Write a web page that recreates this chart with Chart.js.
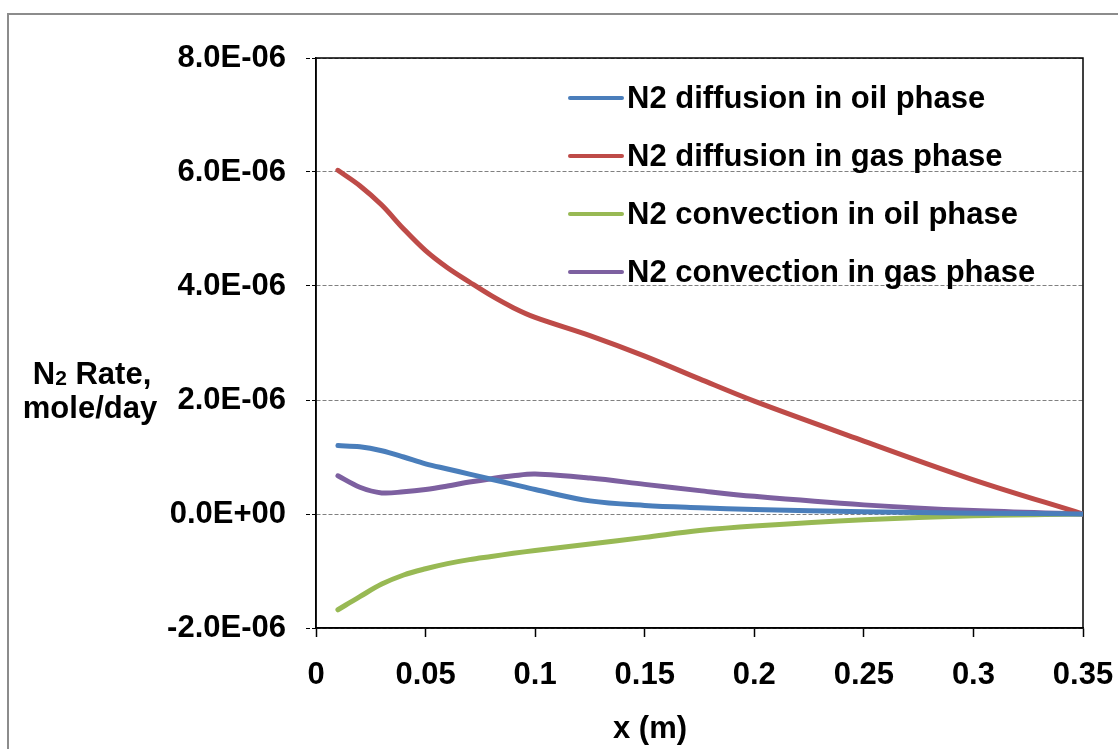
<!DOCTYPE html>
<html>
<head>
<meta charset="utf-8">
<script src="https://cdn.jsdelivr.net/npm/chart.js@4"></script>
<style>
  html, body { margin:0; padding:0; background:#fff; overflow:hidden; }
  #wrap { position:relative; width:1118px; height:749px; }
  #frame { position:absolute; left:7px; top:13px; width:1200px; height:900px; border:2px solid #8c8c8c; box-sizing:border-box; }
  canvas { position:absolute; left:0; top:0; }
</style>
</head>
<body>
<div id="wrap">
  <div id="frame"></div>
  <canvas id="rateChart" width="1118" height="749"></canvas>
</div>
<script>
// ==========================
// Data (x in m, rates in mole/day)
// ==========================

const xValues = [0.01, 0.02, 0.03, 0.04, 0.05, 0.06, 0.07, 0.08, 0.09, 0.1, 0.125, 0.15, 0.175, 0.2, 0.25, 0.3, 0.35];

const diffusionOil = [1.20e-6, 1.18e-6, 1.11e-6, 1.00e-6, 0.88e-6, 0.79e-6, 0.70e-6, 0.61e-6, 0.52e-6, 0.43e-6, 0.23e-6, 0.15e-6, 0.11e-6, 0.08e-6, 0.04e-6, 0.015e-6, 0];
const diffusionGas = [6.03e-6, 5.76e-6, 5.42e-6, 5.00e-6, 4.62e-6, 4.32e-6, 4.07e-6, 3.83e-6, 3.62e-6, 3.45e-6, 3.13e-6, 2.77e-6, 2.37e-6, 1.98e-6, 1.28e-6, 0.60e-6, 0];
const convectionOil = [-1.68e-6, -1.45e-6, -1.23e-6, -1.07e-6, -0.96e-6, -0.87e-6, -0.80e-6, -0.745e-6, -0.69e-6, -0.64e-6, -0.525e-6, -0.41e-6, -0.29e-6, -0.21e-6, -0.10e-6, -0.03e-6, 0];
const convectionGas = [0.67e-6, 0.47e-6, 0.37e-6, 0.39e-6, 0.43e-6, 0.49e-6, 0.56e-6, 0.62e-6, 0.67e-6, 0.70e-6, 0.63e-6, 0.52e-6, 0.41e-6, 0.31e-6, 0.16e-6, 0.06e-6, 0];

const seriesLabels = [
    "N2 diffusion in oil phase",
    "N2 diffusion in gas phase",
    "N2 convection in oil phase",
    "N2 convection in gas phase"
];

const xTicks = [0, 0.05, 0.1, 0.15, 0.2, 0.25, 0.3, 0.35];
const yTicks = [-2e-6, 0, 2e-6, 4e-6, 6e-6, 8e-6];

const colors = ["#4A7EBB", "#BE4B48", "#98B954", "#7D60A0"];

const FONT = "'Liberation Sans', Arial, sans-serif";

// ==========================
// Helpers
// ==========================

function sci(v){
    if(Math.abs(v) < 1e-12) return "0.0E+00";
    let e = Math.floor(Math.log10(Math.abs(v)));
    let m = v / Math.pow(10, e);
    if(Math.abs(m) >= 9.95){ m /= 10; e++; }
    return m.toFixed(1) + "E" + (e < 0 ? "-" : "+") + String(Math.abs(e)).padStart(2, "0");
}

function points(ys){
    return xValues.map((x, i) => ({x: x, y: ys[i]}));
}

// ==========================
// Plot frame, legend, axis titles
// ==========================

const decorations = {

    id: "decorations",

    beforeDatasetsDraw(chart){
        const {ctx, chartArea: a} = chart;
        ctx.save();
        ctx.strokeStyle = "#000";
        ctx.lineWidth = 1.5;
        ctx.strokeRect(a.left, a.top, a.width, a.height);
        ctx.restore();
    },

    afterDraw(chart){
        const {ctx, chartArea: a} = chart;
        ctx.save();

        // legend inside the plot
        ctx.font = "bold 31px " + FONT;
        ctx.textBaseline = "middle";
        ctx.textAlign = "left";
        chart.data.datasets.forEach((ds, i) => {
            const y = a.top + 40 + i * 58;
            const x0 = a.left + 254;
            ctx.strokeStyle = ds.borderColor;
            ctx.lineWidth = 4;
            ctx.lineCap = "round";
            ctx.beginPath();
            ctx.moveTo(x0, y);
            ctx.lineTo(x0 + 52, y);
            ctx.stroke();
            ctx.fillStyle = "#000";
            ctx.fillText(ds.label, x0 + 57, y + 1);
        });

        // y axis title (horizontal, with subscript)
        ctx.fillStyle = "#000";
        ctx.textBaseline = "alphabetic";
        const big = "bold 31px " + FONT;
        const small = "bold 21px " + FONT;
        ctx.font = big;
        const wN = ctx.measureText("N").width;
        const wRate = ctx.measureText(" Rate,").width;
        ctx.font = small;
        const w2 = ctx.measureText("2").width;
        let x = 92 - (wN + w2 + wRate) / 2;
        const base1 = 384;
        ctx.textAlign = "left";
        ctx.font = big;
        ctx.fillText("N", x, base1);
        x += wN;
        ctx.font = small;
        ctx.fillText("2", x, base1 + 1);
        x += w2;
        ctx.font = big;
        ctx.fillText(" Rate,", x, base1);
        ctx.textAlign = "center";
        ctx.fillText("mole/day", 90, 418);

        // x axis title
        ctx.fillText("x (m)", 650, 738);

        ctx.restore();
    }
};

// ==========================
// Chart
// ==========================

document.addEventListener("DOMContentLoaded", () => {

    const canvas = document.getElementById("rateChart");

    const series = [diffusionOil, diffusionGas, convectionOil, convectionGas];

    new Chart(canvas, {

        type: "line",

        data: {
            datasets: series.map((ys, i) => ({
                label: seriesLabels[i],
                data: points(ys),
                borderColor: colors[i],
                backgroundColor: colors[i],
                borderWidth: 5,
                borderCapStyle: "round",
                borderJoinStyle: "round",
                pointRadius: 0,
                fill: false,
                tension: 0.35
            }))
        },

        options: {

            responsive: false,
            animation: false,
            devicePixelRatio: 1,

            layout: {
                padding: {left: 166, top: 58, right: 35, bottom: 0}
            },

            plugins: {
                legend: {display: false},
                tooltip: {enabled: false}
            },

            scales: {

                x: {
                    type: "linear",
                    min: 0,
                    max: 0.35,
                    afterBuildTicks(scale){
                        scale.ticks = xTicks.map(v => ({value: v}));
                    },
                    ticks: {
                        color: "#000",
                        font: {family: FONT, size: 31, weight: "bold"},
                        padding: 20,
                        maxRotation: 0,
                        autoSkip: false,
                        callback: v => String(Math.round(v * 100) / 100)
                    },
                    grid: {
                        drawOnChartArea: false,
                        drawTicks: true,
                        tickLength: 9,
                        tickColor: "#000",
                        tickWidth: 1.5
                    },
                    border: {display: true, color: "#000", width: 1.5},
                    afterFit(scale){
                        scale.height = 121;
                        scale.paddingLeft = 0;
                        scale.paddingRight = 0;
                    }
                },

                y: {
                    min: -2e-6,
                    max: 8e-6,
                    afterBuildTicks(scale){
                        scale.ticks = yTicks.map(v => ({value: v}));
                    },
                    ticks: {
                        color: "#000",
                        font: {family: FONT, size: 31, weight: "bold"},
                        padding: 20,
                        autoSkip: false,
                        callback: v => sci(v)
                    },
                    grid: {
                        color: "#808080",
                        lineWidth: 1,
                        tickLength: 10,
                        tickColor: "#000",
                        tickBorderDash: [4, 2]
                    },
                    border: {display: true, color: "#000", width: 1.5, dash: [4, 2]},
                    afterFit(scale){
                        scale.width = 150;
                        scale.paddingTop = 0;
                        scale.paddingBottom = 0;
                    }
                }
            }
        },

        plugins: [decorations]

    });

});
</script>
</body>
</html>
